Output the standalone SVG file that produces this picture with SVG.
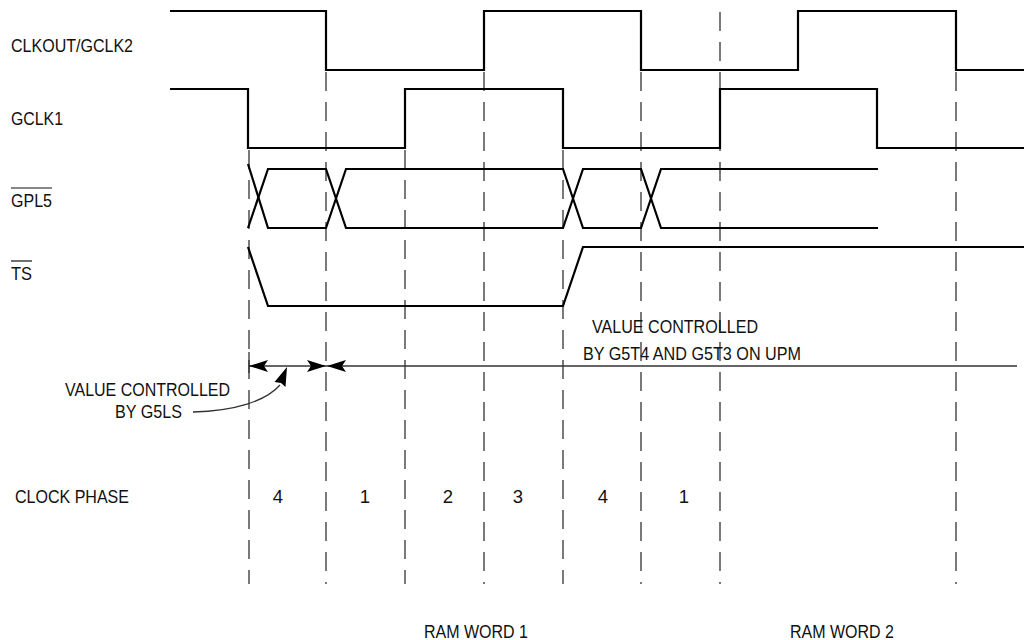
<svg xmlns="http://www.w3.org/2000/svg" width="1024" height="640" viewBox="0 0 1024 640">
<style>
.bg{fill:#fff}
.sig{fill:none;stroke:#000;stroke-width:2.2;stroke-linejoin:miter;stroke-linecap:butt}
.dash{fill:none;stroke:#333;stroke-width:1.3;stroke-dasharray:19 11}
.thin{fill:none;stroke:#333;stroke-width:1.3}
.ah{fill:#000;stroke:none}
text{font-family:"Liberation Sans",Arial,Helvetica,sans-serif;font-size:18.5px;fill:#111}
.ol{stroke:#111;stroke-width:1.2}
</style>
<rect class="bg" x="0" y="0" width="1024" height="640"/>

<g id="gridlines">
<line class="dash" x1="249" y1="150" x2="249" y2="584"/>
<line class="dash" x1="326" y1="72" x2="326" y2="584"/>
<line class="dash" x1="405" y1="150" x2="405" y2="584"/>
<line class="dash" x1="484" y1="72" x2="484" y2="584"/>
<line class="dash" x1="563" y1="150" x2="563" y2="584"/>
<line class="dash" x1="641" y1="72" x2="641" y2="584"/>
<line class="dash" x1="720" y1="12" x2="720" y2="584"/>
<line class="dash" x1="956" y1="72" x2="956" y2="584"/>
</g>

<g id="clkout">
<text x="11" y="52" textLength="122" lengthAdjust="spacingAndGlyphs">CLKOUT/GCLK2</text>
<path class="sig" d="M170,11 H326 V70 H484 V11 H641 V70 H798 V11 H956 V70 H1024"/>
</g>

<g id="gclk1">
<text x="11" y="125" textLength="52" lengthAdjust="spacingAndGlyphs">GCLK1</text>
<path class="sig" d="M170,89 H248 V148 H405 V89 H563 V148 H720 V89 H877 V148 H1024"/>
</g>

<g id="gpl5">
<line class="ol" x1="11" y1="188" x2="52" y2="188"/>
<text x="11" y="207" textLength="41" lengthAdjust="spacingAndGlyphs">GPL5</text>
<path class="sig" d="M248,164 L268,228 H326 L346,169 H563 L583,228 H641 L661,169 H878"/>
<path class="sig" d="M248,228 L268,169 H326 L346,228 H563 L583,169 H641 L661,228 H878"/>
</g>

<g id="ts">
<line class="ol" x1="11" y1="261" x2="32" y2="261"/>
<text x="11" y="280" textLength="21" lengthAdjust="spacingAndGlyphs">TS</text>
<path class="sig" d="M248,247 L268,306 H563 L583,247 H1024"/>
</g>

<g id="connectors">
<line class="thin" x1="249" y1="366" x2="1017" y2="366"/>
<line class="thin" x1="249" y1="352" x2="249" y2="373"/>
<polygon class="ah" points="249,366 268,360 264,366 268,372"/>
<polygon class="ah" points="326,366 307,360 311,366 307,372"/>
<polygon class="ah" points="327,366 346,360 342,366 346,372"/>
<path class="thin" d="M193,412 C235,411 266,401 280,385"/>
<polygon class="ah" points="287,367 285.5,387 281,383 274.5,382"/>
</g>

<g id="g5ls-label">
<text x="65" y="396" textLength="165" lengthAdjust="spacingAndGlyphs">VALUE CONTROLLED</text>
<text x="115" y="418" textLength="67" lengthAdjust="spacingAndGlyphs">BY G5LS</text>
</g>

<g id="upm-label">
<text x="592" y="333" textLength="166" lengthAdjust="spacingAndGlyphs">VALUE CONTROLLED</text>
<text x="583" y="360" textLength="218" lengthAdjust="spacingAndGlyphs">BY G5T4 AND G5T3 ON UPM</text>
</g>

<g id="clock-phase">
<text x="15" y="503" textLength="114" lengthAdjust="spacingAndGlyphs">CLOCK PHASE</text>
<text x="278" y="503" text-anchor="middle">4</text>
<text x="365" y="503" text-anchor="middle">1</text>
<text x="448" y="503" text-anchor="middle">2</text>
<text x="518" y="503" text-anchor="middle">3</text>
<text x="603" y="503" text-anchor="middle">4</text>
<text x="684" y="503" text-anchor="middle">1</text>
</g>

<g id="ram-words">
<text x="424" y="638" textLength="104" lengthAdjust="spacingAndGlyphs">RAM WORD 1</text>
<text x="790" y="638" textLength="104" lengthAdjust="spacingAndGlyphs">RAM WORD 2</text>
</g>
</svg>
